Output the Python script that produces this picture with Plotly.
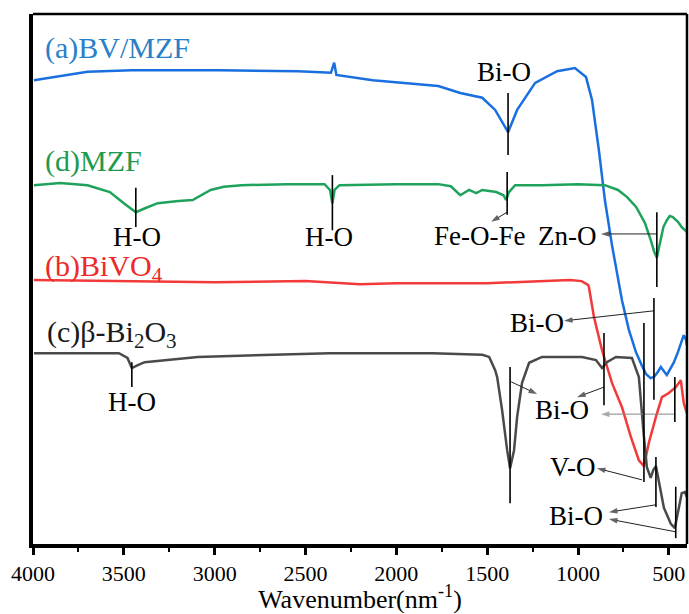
import plotly.graph_objects as go

# ---------------- data (wavenumber, transmittance a.u.) ----------------
bv_w = [3995, 3700, 3456, 2973, 2540, 2360, 2342, 2330, 2130, 1769, 1648, 1527, 1456, 1385,
        1335, 1236, 1115, 1017, 956, 923, 885, 852, 813, 780, 758, 720, 681, 650, 626, 600,
        582, 560, 544, 525, 511, 490, 473, 450, 434, 418, 405, 401]
bv_t = [87.5, 89.1, 89.4, 89.4, 89.2, 88.9, 90.8, 88.5, 87.5, 86.4, 85.1, 84.2, 81.9, 77.7,
        81.9, 87.0, 89.2, 89.8, 88.1, 83.8, 74.3, 64.9, 56.4, 49.8, 46.0, 40.4, 36.2, 33.8, 32.1, 31.3,
        31.5, 32.5, 33.4, 32.5, 31.9, 33.2, 34.2, 36.2, 37.9, 39.4, 38.5, 37.5]

mzf_w = [3995, 3850, 3700, 3577, 3500, 3434, 3380, 3313, 3200, 3121, 3022, 2950, 2852, 2600,
         2395, 2365, 2352, 2340, 2313, 2000, 1769, 1700, 1648, 1600, 1560, 1527, 1450, 1410,
         1396, 1380, 1346, 1200, 1000, 852, 780, 731, 680, 632, 600, 580, 566, 550, 530, 511,
         495, 478, 450, 429, 401]
mzf_t = [67.7, 68.1, 67.7, 66.4, 64.3, 62.6, 63.4, 64.3, 64.7, 64.9, 66.8, 67.4, 67.7, 67.9,
         67.9, 66.8, 64.3, 66.8, 67.7, 67.9, 67.9, 67.5, 65.8, 66.8, 66.2, 66.8, 66.4, 65.8,
         64.9, 66.4, 67.7, 67.7, 67.9, 67.7, 66.8, 65.5, 63.6, 60.6, 57.4, 55.1, 54.0, 56.6, 59.8, 61.1,
         61.9, 61.7, 60.8, 59.8, 58.9]

bvo_w = [3995, 3500, 3000, 2500, 2200, 2000, 1500, 1044, 980, 945, 940, 912, 868, 813, 758,
         709, 665, 637, 610, 571, 538, 500, 462, 434, 418, 401]
bvo_t = [49.8, 49.6, 49.4, 49.6, 49.0, 49.2, 49.2, 49.8, 49.6, 48.9, 48.5, 42.8, 36.6, 30.4, 25.8,
         20.2, 15.8, 14.7, 19.1, 24.0, 27.7, 28.5, 29.6, 30.9, 26.6, 24.7]

bio_w = [3995, 3527, 3480, 3456, 3420, 3385, 3093, 2368, 1800, 1527, 1489, 1456, 1445, 1418,
         1390, 1374, 1352, 1335, 1308, 1269, 1198, 978, 901, 868, 841, 791, 703, 665, 637,
         621, 600, 585, 571, 555, 527, 489, 467, 445, 429, 412, 401]
bio_t = [36.0, 36.0, 35.1, 33.2, 33.8, 34.3, 35.3, 36.0, 36.0, 35.7, 35.3, 32.8, 31.5, 25.3,
         17.7, 14.3, 17.7, 24.0, 30.4, 34.2, 35.3, 35.3, 34.7, 33.2, 34.3, 35.3, 35.1, 31.5, 20.2,
         14.5, 12.5, 14.0, 14.7, 11.7, 6.8, 3.8, 3.0, 6.8, 9.6, 9.8, 8.9]

x_ticks = [4000, 3500, 3000, 2500, 2000, 1500, 1000, 500]

# peak marker lines: (wavenumber, T_top, T_bottom)
marks = [(1385, 85.1, 73.4), (3434, 67.2, 59.8), (2352, 69.6, 59.2), (1390, 70.2, 62.1),
         (566, 62.6, 48.5), (582, 46.4, 27.2), (1374, 33.4, 7.7), (857, 39.8, 26.2),
         (467, 31.5, 23.0), (637, 41.7, 11.7), (571, 16.4, 7.0), (462, 10.8, 1.1),
         (3456, 34.3, 29.6)]

# arrows: (tail w, tail T, head w, head T, colour)
arrows = [(1390, 62.6, 1478, 60.8, "#222"), (566, 58.5, 874, 58.5, "#222"),
          (582, 44.0, 1077, 42.1, "#222"), (1368, 30.6, 1225, 28.3, "#222"),
          (857, 29.6, 1005, 27.7, "#222"), (467, 24.5, 874, 24.5, "#888"),
          (648, 12.1, 896, 14.3, "#222"), (571, 7.4, 830, 6.0, "#222"),
          (462, 2.3, 830, 4.7, "#222")]

# band labels: (text, w, T)
bands = [("Bi-O", 1407, 89.0), ("H-O", 3429, 57.9), ("H-O", 2368, 57.9),
         ("Fe-O-Fe", 1544, 58.1), ("Zn-O", 1060, 58.1), ("Bi-O", 1225, 41.7),
         ("Bi-O", 1088, 25.3), ("V-O", 1027, 14.5), ("Bi-O", 1011, 5.3),
         ("H-O", 3456, 26.8)]

# series labels: (text, w, T, colour)
series_labels = [("(a)BV/MZF", 3945, 93.6, "#2a7fc8"), ("(d)MZF", 3945, 72.3, "#1f9a4e"),
                 ("(b)BiVO<sub>4</sub>", 3945, 52.0, "#ec2a2a"),
                 ("(c)β-Bi<sub>2</sub>O<sub>3</sub>", 3935, 39.6, "#1a1a1a")]

FONT = "Liberation Serif, Times New Roman, serif"

fig = go.Figure()
for w, t, c in [(bv_w, bv_t, "#1a6fe0"), (mzf_w, mzf_t, "#1fa35c"),
                (bvo_w, bvo_t, "#f23a3a"), (bio_w, bio_t, "#4a4a4a")]:
    fig.add_trace(go.Scatter(x=w, y=t, mode="lines", line=dict(color=c, width=2.5),
                             hoverinfo="skip", showlegend=False))

for w, t0, t1 in marks:
    fig.add_shape(type="line", x0=w, x1=w, y0=t0, y1=t1, xref="x", yref="y",
                  line=dict(color="black", width=1.6))

for tw, tt, hw, ht, c in arrows:
    fig.add_trace(go.Scatter(x=[tw, hw], y=[tt, ht], mode="lines+markers",
                             line=dict(color=c, width=1),
                             marker=dict(symbol="arrow", size=[0, 9], angleref="previous",
                                         color=c, line=dict(width=0)),
                             hoverinfo="skip", showlegend=False))

for txt, w, t in bands:
    fig.add_annotation(x=w, y=t, text=txt, showarrow=False, xref="x", yref="y",
                       font=dict(family=FONT, size=27, color="black"))

for txt, w, t, c in series_labels:
    fig.add_annotation(x=w, y=t, text=txt, showarrow=False, xref="x", yref="y",
                       xanchor="left", font=dict(family=FONT, size=30, color=c))

# top and right frame lines
fig.add_shape(type="line", xref="paper", yref="paper", x0=0, x1=1, y0=1, y1=1,
              line=dict(color="black", width=2.5))
fig.add_shape(type="line", xref="paper", yref="paper", x0=1, x1=1, y0=0, y1=1,
              line=dict(color="black", width=2.5))

fig.update_layout(
    width=689, height=614,
    margin=dict(l=33, r=2, t=14, b=70),
    plot_bgcolor="white", paper_bgcolor="white",
    font=dict(family=FONT, color="black"),
    xaxis=dict(range=[4000, 400], tickvals=x_ticks, ticktext=[str(v) for v in x_ticks],
               ticks="outside", ticklen=7, tickwidth=3, tickcolor="black",
               minor=dict(dtick=250, ticks="outside", ticklen=4, tickwidth=2, tickcolor="black"),
               showline=True, linewidth=4, linecolor="black", showgrid=False, zeroline=False,
               tickfont=dict(family=FONT, size=22, color="black"),
               title=dict(text="Wavenumber(nm<sup>-1</sup>)", standoff=2,
                          font=dict(family=FONT, size=26, color="black"))),
    yaxis=dict(range=[0, 100], showticklabels=False, ticks="", showgrid=False, zeroline=False,
               showline=True, linewidth=4, linecolor="black"),
)

fig.write_html("out.html", config={"displayModeBar": False},
               post_script="document.body.style.margin='0';document.body.style.overflow='hidden';")
